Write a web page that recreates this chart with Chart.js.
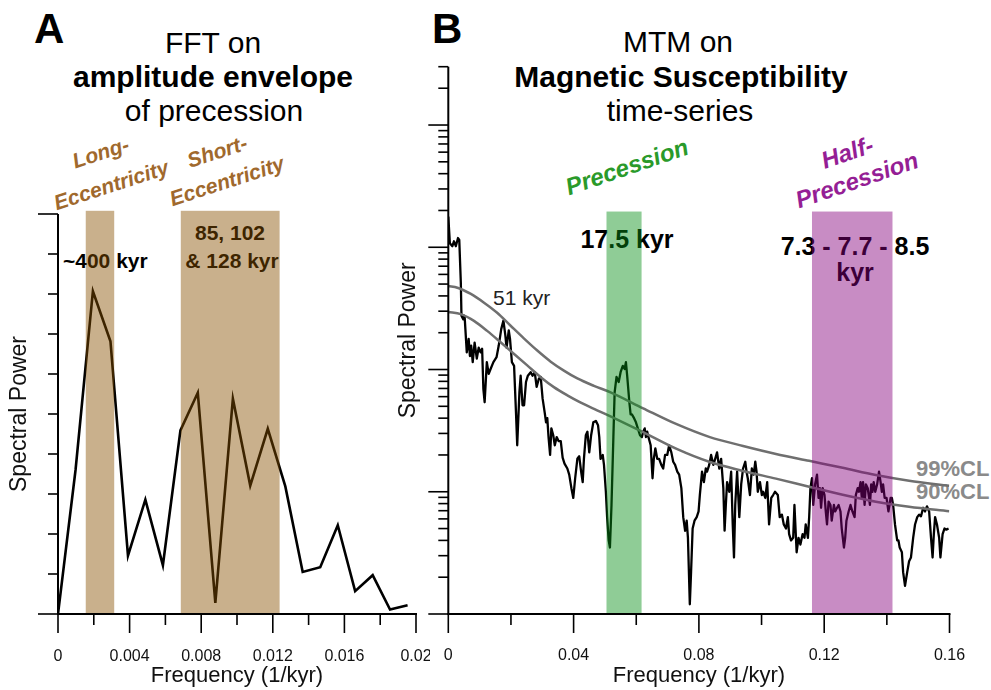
<!DOCTYPE html>
<html>
<head>
<meta charset="utf-8">
<script src="https://cdn.jsdelivr.net/npm/chart.js@4.4.0/dist/chart.umd.min.js"></script>
<style>
  body { margin: 0; background: #fff; overflow: hidden; }
  #fig { position: relative; width: 991px; height: 690px; font-family: 'Liberation Sans', Arial, Helvetica, sans-serif; color: #000; }
  #fig canvas { position: absolute; top: 0; z-index: 1; }
  .t { position: absolute; line-height: 1; white-space: nowrap; z-index: 0; }
  .c { transform: translateX(-50%); }
  .title { font-size: 30px; }
  .panel { font-size: 42px; font-weight: bold; }
  .note { font-size: 21px; font-weight: bold; }
  .big { font-size: 25px; font-weight: bold; }
  .rot { position: absolute; white-space: nowrap; text-align: center; font-weight: bold; font-style: italic; z-index: 0; }
</style>
</head>
<body>
<div id="fig">
  <div class="t panel" style="left:34px;top:8px">A</div>
  <div class="t panel" style="left:432px;top:8px">B</div>

  <div class="t title c" style="left:213px;top:28px">FFT on</div>
  <div class="t title c" style="left:213px;top:62px;font-weight:bold">amplitude envelope</div>
  <div class="t title c" style="left:214px;top:96px">of precession</div>

  <div class="t title c" style="left:678px;top:27px">MTM on</div>
  <div class="t title c" style="left:681px;top:62px;font-weight:bold">Magnetic Susceptibility</div>
  <div class="t title c" style="left:680px;top:96px">time-series</div>

  <div class="rot" style="left:106px;top:169px;font-size:21px;line-height:34px;color:#a0692d;transform:translate(-50%,-50%) rotate(-18deg)">Long-<br>Eccentricity</div>
  <div class="rot" style="left:222px;top:166px;font-size:21px;line-height:31px;color:#a0692d;transform:translate(-50%,-50%) rotate(-18deg)">Short-<br>Eccentricity</div>
  <div class="rot" style="left:627px;top:167px;font-size:24px;line-height:28px;color:#2a9a2a;transform:translate(-50%,-50%) rotate(-19deg)">Precession</div>
  <div class="rot" style="left:852px;top:166px;font-size:24px;line-height:29px;color:#951e95;transform:translate(-50%,-50%) rotate(-19deg)">Half-<br>Precession</div>

  <div class="t note" style="left:63px;top:250px">~400 kyr</div>
  <div class="t note c" style="left:230px;top:222px">85, 102</div>
  <div class="t note c" style="left:232px;top:250px">&amp; 128 kyr</div>

  <div class="t big c" style="left:627px;top:227px">17.5 kyr</div>
  <div class="t big c" style="left:855px;top:234px">7.3 - 7.7 - 8.5</div>
  <div class="t big c" style="left:855px;top:260px">kyr</div>

  <div class="t" style="left:493px;top:287px;font-size:21px;color:#222">51 kyr</div>
  <div class="t" style="left:916px;top:458px;font-size:22px;font-weight:bold;color:#8a8a8a">99%CL</div>
  <div class="t" style="left:916px;top:481px;font-size:22px;font-weight:bold;color:#8a8a8a">90%CL</div>

  <canvas id="chartA" width="430" height="690" style="left:0;width:430px;height:690px"></canvas>
  <canvas id="chartB" width="601" height="690" style="left:390px;width:601px;height:690px"></canvas>
</div>

<script>
// Panel A: FFT of the precession amplitude envelope
const aFreq = [0, 0.00098, 0.00195, 0.00293, 0.00391, 0.00488, 0.00586, 0.00684, 0.00781, 0.00879,
  0.00977, 0.01074, 0.01172, 0.0127, 0.01367, 0.01465, 0.01563, 0.0166, 0.01758, 0.01855, 0.01953];
const aPower = [0, 3.6, 8.07, 6.82, 1.46, 2.86, 1.22, 4.59, 5.53, 0.28,
  5.38, 3.21, 4.63, 3.19, 1.05, 1.17, 2.22, 0.57, 0.97, 0.11, 0.22];
const aBands = [[0.00155, 0.00314], [0.00686, 0.01238]];
const aBandTop = 10.08;
const aXLabels = [0, 0.004, 0.008, 0.012, 0.016, 0.02];
const aXMinor = [0.002, 0.006, 0.01, 0.014, 0.018];
const aYMajor = [0, 10];
const aYMinor = [1, 2, 3, 4, 5, 6, 7, 8, 9];

// Panel B: MTM spectrum of magnetic susceptibility
const bFreq = [
  0, 0.0005, 0.0013, 0.0018, 0.0024, 0.0031, 0.0035, 0.0040, 0.0042, 0.0048,
  0.0052, 0.0059, 0.0065, 0.0069, 0.0073, 0.0078, 0.0084, 0.0091, 0.0097, 0.0103,
  0.0108, 0.0112, 0.0116, 0.0123, 0.0129, 0.0135, 0.0144, 0.0154, 0.0161, 0.0169,
  0.0176, 0.0182, 0.0186, 0.0193, 0.0197, 0.0203, 0.0210, 0.0216, 0.0220, 0.0227,
  0.0231, 0.0237, 0.0242, 0.0248, 0.0254, 0.0263, 0.0269, 0.0276, 0.0282, 0.0289,
  0.0295, 0.0301, 0.0308, 0.0312, 0.0316, 0.0320, 0.0325, 0.0329, 0.0335, 0.0340,
  0.0346, 0.0352, 0.0359, 0.0365, 0.0371, 0.0380, 0.0386, 0.0393, 0.0399, 0.0405,
  0.0412, 0.0418, 0.0424, 0.0429, 0.0433, 0.0439, 0.0444, 0.0450, 0.0456, 0.0463,
  0.0471, 0.0478, 0.0482, 0.0486, 0.0493, 0.0497, 0.0503, 0.0507, 0.0512, 0.0516,
  0.0521, 0.0527, 0.0531, 0.0537, 0.0544, 0.0550, 0.0557, 0.0563, 0.0567, 0.0571,
  0.0578, 0.0582, 0.0586, 0.0593, 0.0599, 0.0605, 0.0612, 0.0618, 0.0622, 0.0627,
  0.0631, 0.0635, 0.0639, 0.0646, 0.0652, 0.0656, 0.0661, 0.0667, 0.0673, 0.0680,
  0.0686, 0.0692, 0.0699, 0.0705, 0.0712, 0.0718, 0.0724, 0.0731, 0.0737, 0.0744,
  0.0750, 0.0756, 0.0761, 0.0765, 0.0771, 0.0775, 0.0780, 0.0786, 0.0793, 0.0799,
  0.0803, 0.0810, 0.0816, 0.0822, 0.0826, 0.0833, 0.0839, 0.0846, 0.0852, 0.0858,
  0.0865, 0.0871, 0.0878, 0.0882, 0.0886, 0.0890, 0.0897, 0.0903, 0.0908, 0.0912,
  0.0916, 0.0922, 0.0929, 0.0935, 0.0941, 0.0948, 0.0952, 0.0956, 0.0963, 0.0969,
  0.0975, 0.0980, 0.0984, 0.0988, 0.0995, 0.1001, 0.1005, 0.1012, 0.1018, 0.1024,
  0.1031, 0.1037, 0.1043, 0.1052, 0.1058, 0.1065, 0.1071, 0.1078, 0.1084, 0.1088,
  0.1094, 0.1101, 0.1105, 0.1112, 0.1118, 0.1124, 0.1131, 0.1137, 0.1141, 0.1148,
  0.1152, 0.1156, 0.1161, 0.1165, 0.1171, 0.1177, 0.1182, 0.1186, 0.1190, 0.1195,
  0.1201, 0.1205, 0.1209, 0.1214, 0.1220, 0.1224, 0.1231, 0.1235, 0.1241, 0.1246,
  0.1252, 0.1256, 0.1263, 0.1267, 0.1271, 0.1278, 0.1284, 0.1290, 0.1297, 0.1301,
  0.1307, 0.1311, 0.1316, 0.1320, 0.1324, 0.1329, 0.1333, 0.1339, 0.1346, 0.1350,
  0.1354, 0.1358, 0.1363, 0.1369, 0.1375, 0.1380, 0.1384, 0.1388, 0.1393, 0.1399,
  0.1405, 0.1412, 0.1416, 0.1420, 0.1426, 0.1433, 0.1437, 0.1441, 0.1448, 0.1452,
  0.1458, 0.1465, 0.1471, 0.1477, 0.1484, 0.1490, 0.1497, 0.1503, 0.1509, 0.1516,
  0.1522, 0.1528, 0.1535, 0.1541, 0.1546, 0.1550, 0.1554, 0.1560, 0.1567, 0.1571,
  0.1578, 0.1584, 0.1590, 0.1597
];
const bPower = [
  1780, 1080, 1020, 1120, 1020, 1190, 1150, 513, 275, 257,
  275, 138, 178, 129, 157, 115, 166, 123, 151, 138,
  148, 69, 54, 115, 92, 101, 115, 126, 157, 214,
  251, 191, 151, 209, 178, 115, 107, 45, 24, 65,
  89, 51, 51, 79, 89, 95, 89, 95, 72, 84,
  87, 58, 44, 37, 40, 28, 20, 33, 29, 24,
  28, 26, 26, 19, 17, 15.5, 13.8, 10.7, 8.9, 12.9,
  18.6, 19.5, 14.6, 12, 18.6, 29, 31, 21, 29, 37,
  38, 35, 28, 18.6, 20, 16.6, 10, 6.2, 4.0, 3.5,
  7.8, 28, 65, 87, 79, 95, 107, 101, 115, 89,
  54, 43, 43, 40, 37, 33, 29, 28, 31, 33,
  28, 31, 28, 24, 12.9, 18.6, 22.6, 18.6, 18.6, 16.6,
  15.5, 20, 20, 24, 21, 17.6, 16.6, 14.6, 13.8, 10.7,
  6.2, 4.8, 5.8, 4.2, 1.2, 2.2, 5.0, 5.8, 6.2, 6.9,
  9.4, 14.6, 12, 15.5, 14.6, 16.6, 20, 16.6, 18.6, 21,
  15.5, 18.6, 10.7, 4.8, 7.8, 12, 10, 14.6, 5.4, 2.9,
  7.8, 14.6, 6.2, 11.5, 15.5, 17.6, 14.6, 12.9, 9.4, 15.5,
  13.8, 17.6, 14.6, 10, 12, 9.4, 10, 8.9, 12, 5.4,
  8.9, 9.4, 10, 9.4, 6.2, 6.5, 5.4, 5.0, 6.2, 4.5,
  4.0, 4.2, 7.8, 3.2, 4.2, 3.7, 4.5, 4.2, 5.4, 4.2,
  6.2, 10.7, 12.9, 7.8, 11.5, 13.8, 8.9, 10.7, 7.4, 10.7,
  9.4, 6.9, 5.4, 8.3, 7.8, 5.8, 7.8, 6.9, 7.4, 7.8,
  6.9, 5.0, 3.5, 4.2, 5.8, 6.9, 7.8, 6.9, 6.2, 9.4,
  10.7, 10, 12, 8.9, 12, 7.8, 11.5, 10.7, 7.8, 11.5,
  10, 12, 10, 11.5, 14.6, 12, 10, 11.5, 8.9, 8.9,
  6.9, 8.9, 8.9, 7.8, 5.4, 4.0, 4.0, 3.5, 3.2, 2.2,
  1.7, 2.2, 2.7, 2.9, 4.2, 5.4, 6.2, 6.5, 6.3, 7.4,
  6.9, 7.6, 6.9, 4.2, 2.9, 4.5, 6.2, 5.4, 4.2, 2.9,
  4.5, 5.0, 4.9, 5.0
];
// confidence levels
const cl99Freq = [0, 0.0029, 0.0072, 0.0114, 0.0156, 0.0199, 0.0242, 0.0284, 0.0327, 0.0369, 0.0412, 0.0465,
  0.0518, 0.0622, 0.0729, 0.0835, 0.0941, 0.1046, 0.1152, 0.1259, 0.1365, 0.1471, 0.1599];
const cl99 = [482, 467, 415, 352, 291, 228, 179, 143, 116, 98, 84.5, 73.5,
  65, 48.2, 35.7, 28, 23.7, 20.4, 17.9, 15.7, 13.7, 12.3, 11.2];
const cl90Freq = [0, 0.0040, 0.0082, 0.0124, 0.0167, 0.0210, 0.0252, 0.0295, 0.0337, 0.0380, 0.0423, 0.0475,
  0.0523, 0.0622, 0.0729, 0.0835, 0.0941, 0.1046, 0.1152, 0.1259, 0.1365, 0.1471, 0.1599];
const cl90 = [296, 284, 250, 207, 167, 134, 108, 86.5, 71.8, 61.5, 53.6, 46.4,
  40.7, 30.7, 22.4, 17.5, 14.8, 12.8, 11.0, 9.45, 8.3, 7.55, 6.94];
const bBands = [[0.0505, 0.0617], [0.1161, 0.1418]];
const bBandTop = 1960;
const bXLabels = [0, 0.04, 0.08, 0.12, 0.16];
const bXMinor = [0.02, 0.06, 0.1, 0.14];
const bYMajor = [1, 10, 100, 1000, 10000];
const bYMinor = [2, 3, 4, 5, 6, 7, 8, 9, 20, 30, 40, 50, 60, 70, 80, 90,
  200, 300, 400, 500, 600, 700, 800, 900, 2000, 3000, 4000, 5000, 6000, 7000, 8000, 9000, 20000, 30000];

const FONT = "'Liberation Sans', Arial, Helvetica, sans-serif";

// axis lines and major/minor tick marks
const axisMarks = {
  id: 'axisMarks',
  afterDraw(chart, args, opts) {
    const { ctx, chartArea: a, scales: { x, y } } = chart;
    const line = (x0, y0, x1, y1) => { ctx.beginPath(); ctx.moveTo(x0, y0); ctx.lineTo(x1, y1); ctx.stroke(); };
    ctx.save();
    ctx.strokeStyle = '#000';
    ctx.lineWidth = 1.6;
    opts.xMajor.forEach(v => { const p = x.getPixelForValue(v); line(p, a.bottom, p, a.bottom + 19); });
    opts.xMinor.forEach(v => { const p = x.getPixelForValue(v); line(p, a.bottom, p, a.bottom + 11); });
    opts.yMajor.forEach(v => { const p = y.getPixelForValue(v); line(a.left, p, a.left - 20, p); });
    opts.yMinor.forEach(v => { const p = y.getPixelForValue(v); line(a.left, p, a.left - 10, p); });
    ctx.lineWidth = 2;
    line(a.left, a.top, a.left, a.bottom + 1);
    line(a.left - 1, a.bottom, a.right + 1, a.bottom);
    ctx.restore();
  }
};

// shaded frequency bands, laid over the spectrum
const bandShade = {
  id: 'bandShade',
  afterDatasetsDraw(chart, args, opts) {
    const { ctx, chartArea: a, scales: { x, y } } = chart;
    const top = y.getPixelForValue(opts.top);
    ctx.save();
    opts.ranges.forEach((r, i) => {
      const x0 = x.getPixelForValue(r[0]);
      const x1 = x.getPixelForValue(r[1]);
      ctx.fillStyle = opts.colors[i];
      ctx.fillRect(x0, top, x1 - x0, a.bottom - top);
    });
    ctx.restore();
  }
};

function xAxis(min, max, labels, digits, pad) {
  return {
    type: 'linear', min: min, max: max,
    afterBuildTicks(s) { s.ticks = labels.map(v => ({ value: v })); },
    afterFit(s) { s.height = 76; s.paddingLeft = 0; s.paddingRight = 0; },
    grid: { display: false, drawTicks: false },
    border: { display: false },
    ticks: {
      autoSkip: false, maxRotation: 0, padding: pad, color: '#111',
      font: { family: FONT, size: 16 },
      callback: v => String(+v.toFixed(digits))
    },
    title: { display: true, text: 'Frequency (1/kyr)', color: '#111', padding: { top: 0, bottom: 3 },
      font: { family: FONT, size: 22, lineHeight: 1 } }
  };
}

function yTitle(padTop) {
  return { display: true, text: 'Spectral Power', color: '#111', padding: { top: padTop, bottom: 0 },
    font: { family: FONT, size: 23, lineHeight: 1 } };
}

const baseOpts = {
  responsive: false,
  animation: false,
  events: [],
  elements: { point: { radius: 0 } }
};

new Chart(document.getElementById('chartA'), {
  type: 'line',
  data: {
    datasets: [{
      data: aFreq.map((f, i) => ({ x: f, y: aPower[i] })),
      borderColor: '#000', borderWidth: 2.6, tension: 0, fill: false
    }]
  },
  options: {
    ...baseOpts,
    layout: { padding: { left: 0, top: 214, right: 14, bottom: 0 } },
    plugins: {
      legend: { display: false }, tooltip: { enabled: false },
      axisMarks: { xMajor: aXLabels, xMinor: aXMinor, yMajor: aYMajor, yMinor: aYMinor },
      bandShade: { ranges: aBands, top: aBandTop, colors: ['rgba(135,80,0,0.45)', 'rgba(135,80,0,0.45)'] }
    },
    scales: {
      x: xAxis(0, 0.02, aXLabels, 3, 33),
      y: {
        type: 'linear', min: 0, max: 10,
        afterFit(s) { s.width = 58; s.paddingTop = 0; s.paddingBottom = 0; },
        grid: { display: false, drawTicks: false }, border: { display: false },
        ticks: { display: false },
        title: yTitle(8.5)
      }
    }
  },
  plugins: [bandShade, axisMarks]
});

new Chart(document.getElementById('chartB'), {
  type: 'line',
  data: {
    datasets: [
      {
        label: '99%CL', order: 1,
        data: cl99Freq.map((f, i) => ({ x: f, y: cl99[i] })),
        borderColor: '#6f6f6f', borderWidth: 2.5, cubicInterpolationMode: 'monotone', fill: false
      },
      {
        label: '90%CL', order: 1,
        data: cl90Freq.map((f, i) => ({ x: f, y: cl90[i] })),
        borderColor: '#6f6f6f', borderWidth: 2.5, cubicInterpolationMode: 'monotone', fill: false
      },
      {
        label: 'MTM', order: 2,
        data: bFreq.map((f, i) => ({ x: f, y: bPower[i] })),
        borderColor: '#000', borderWidth: 2.3, tension: 0, fill: false, borderJoinStyle: 'round'
      }
    ]
  },
  options: {
    ...baseOpts,
    layout: { padding: { left: 0, top: 66.7, right: 41.5, bottom: 0 } },
    plugins: {
      legend: { display: false }, tooltip: { enabled: false },
      axisMarks: { xMajor: bXLabels, xMinor: bXMinor, yMajor: bYMajor, yMinor: bYMinor },
      bandShade: { ranges: bBands, top: bBandTop, colors: ['rgba(7,142,22,0.45)', 'rgba(133,0,124,0.45)'] }
    },
    scales: {
      x: xAxis(0, 0.16, bXLabels, 2, 32),
      y: {
        type: 'logarithmic', min: 1, max: 30000,
        afterFit(s) { s.width = 58.3; s.paddingTop = 0; s.paddingBottom = 0; },
        grid: { display: false, drawTicks: false }, border: { display: false },
        ticks: { display: false },
        title: yTitle(7)
      }
    }
  },
  plugins: [bandShade, axisMarks]
});
</script>
</body>
</html>
